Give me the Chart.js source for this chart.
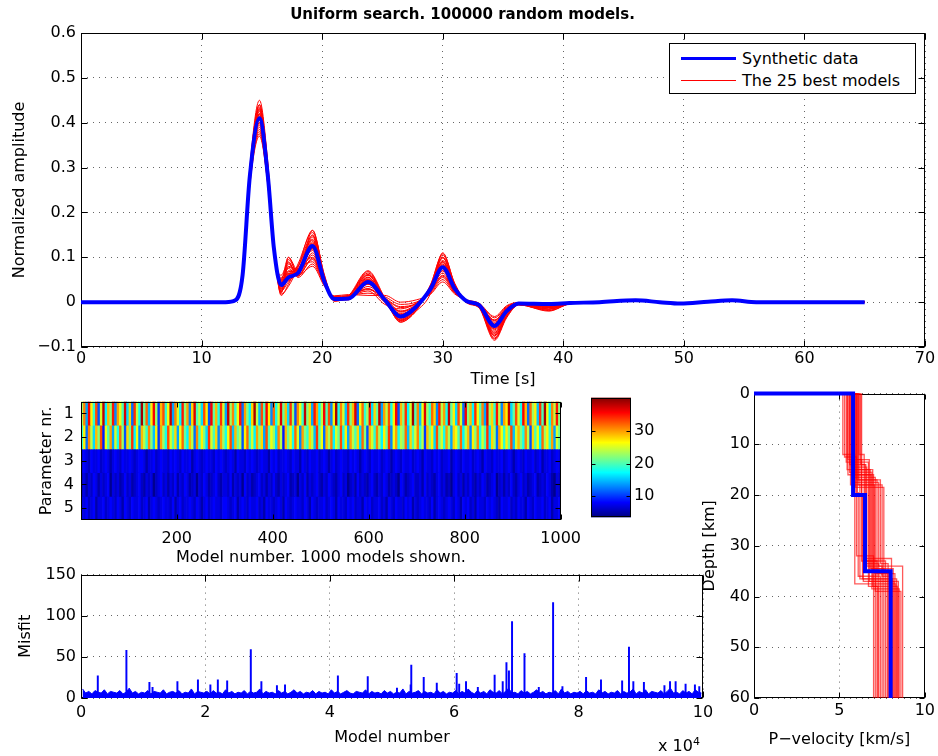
<!DOCTYPE html>
<html lang="en">
<head>
<meta charset="UTF-8">
<title>Uniform search. 100000 random models.</title>
<script src="https://cdn.jsdelivr.net/npm/chart.js@4.4.1/dist/chart.umd.min.js"></script>
<style>
  body { margin: 0; background: #fff; font-family: 'DejaVu Sans', sans-serif; }
  #wrap { position: relative; width: 938px; height: 756px; overflow: hidden; }
  #wrap canvas { position: absolute; }
  #legend { position: absolute; left: 669px; top: 43px; width: 245px; height: 46px; padding-top: 3px;
            border: 1px solid #000; background: #fff; font-size: 16px; color: #000; }
  #legend .item { height: 22px; display: flex; align-items: center; white-space: nowrap; }
  #legend .swatch { display: inline-block; width: 55px; margin: 0 6px 0 11px; }
  #expo { position: absolute; left: 658px; top: 735px; font-size: 16px; color: #000; }
  #expo sup { font-size: 11px; }
</style>
</head>
<body>
<div id="wrap">
  <canvas id="wave" width="938" height="400" style="left:0;top:0"></canvas>
  <canvas id="heat" width="590" height="185" style="left:0;top:385px"></canvas>
  <canvas id="cbar" width="100" height="145" style="left:580px;top:385px"></canvas>
  <canvas id="misfit" width="720" height="196" style="left:0;top:560px"></canvas>
  <canvas id="depth" width="238" height="376" style="left:700px;top:380px"></canvas>
  <div id="legend">
    <div class="item"><span class="swatch" style="border-top:3px solid #00f"></span>Synthetic data</div>
    <div class="item"><span class="swatch" style="border-top:1px solid #f00"></span>The 25 best models</div>
  </div>
  <div id="expo">x 10<sup>4</sup></div>
</div>
<script>
// ---- waveforms (time in s, normalized amplitude) ----
var times = [0, 10, 12, 12.8, 13.4, 14, 14.8, 15.5, 16, 16.6, 17.2, 18, 19.2, 20.2, 21, 22.2, 23.8, 25.2, 26.5, 27.8,
             29, 30, 31, 32, 33, 34.3, 35.3, 36.3, 38.8, 40.5, 43, 46, 48, 49.7, 52, 54, 56, 65];
var synthetic = [0,0,0,0.004,0.06,0.28,0.41,0.28,0.12,0.038,0.055,0.065,0.125,0.045,0.007,0.008,0.045,0.005,-0.032,-0.01,
                 0.03,0.078,0.03,0.002,-0.006,-0.053,-0.02,-0.003,-0.004,-0.002,0,0.004,0,-0.003,0.001,0.004,0,0];
var bestModels = [
  [0,-0.001,0.001,0.005,0.062,0.29,0.44,0.3,0.13,0.03,0.1,0.07,0.15,0.05,0.005,0.01,0.06,0.005,-0.04,-0.012,0.035,0.1,0.035,0.0,-0.01,-0.075,-0.03,-0.005,-0.015,-0.003,0,0.004,0,-0.005,0.001,0.005,0,0],
  [0,0,0,0.004,0.055,0.26,0.37,0.26,0.11,0.045,0.06,0.075,0.09,0.04,0.01,0.012,0.03,0.0,-0.02,-0.005,0.025,0.06,0.025,0.003,-0.005,-0.045,-0.015,-0.002,-0.006,-0.002,0,0.003,0,-0.002,0.001,0.003,0,0],
  [0,0,0,0.004,0.06,0.285,0.43,0.29,0.12,0.02,0.085,0.06,0.16,0.055,0.003,0.015,0.07,0.01,-0.045,-0.02,0.02,0.11,0.04,0.0,-0.012,-0.085,-0.035,-0.006,-0.02,-0.004,0,0.004,0,-0.004,0.001,0.004,0,0],
  [0,0,0,0.004,0.058,0.275,0.4,0.27,0.12,0.05,0.05,0.07,0.1,0.04,0.012,0.01,0.04,0.01,-0.02,-0.008,0.03,0.07,0.028,0.004,-0.004,-0.05,-0.02,-0.003,-0.008,-0.002,0,0.004,0,-0.003,0.001,0.004,0,0],
  [0,0,0,0.005,0.061,0.29,0.42,0.29,0.125,0.035,0.065,0.08,0.14,0.05,0.006,0.005,0.055,0.0,-0.035,-0.015,0.035,0.09,0.03,0.001,-0.008,-0.065,-0.025,-0.004,-0.012,-0.003,0,0.004,0,-0.004,0.001,0.004,0,0],
  [0,0,0,0.004,0.057,0.27,0.39,0.27,0.115,0.042,0.09,0.058,0.11,0.045,0.009,0.012,0.025,-0.005,-0.015,-0.002,0.028,0.065,0.022,0.002,-0.005,-0.04,-0.012,-0.002,-0.005,-0.001,0,0.003,0,-0.002,0.001,0.003,0,0],
  [0,0,0,0.004,0.06,0.28,0.41,0.28,0.12,0.025,0.045,0.07,0.13,0.05,0.004,0.008,0.05,0.002,-0.03,-0.012,0.03,0.085,0.032,0.0,-0.007,-0.06,-0.022,-0.004,-0.01,-0.002,0,0.004,0,-0.003,0.001,0.004,0,0],
  [0,-0.001,0,0.005,0.063,0.3,0.45,0.31,0.13,0.015,0.04,0.085,0.155,0.06,0.002,0.013,0.065,0.008,-0.042,-0.018,0.04,0.105,0.04,-0.002,-0.012,-0.08,-0.032,-0.006,-0.018,-0.004,0,0.004,0,-0.005,0.001,0.005,0,0],
  [0,0,0,0.003,0.056,0.27,0.38,0.265,0.11,0.055,0.075,0.06,0.08,0.035,0.013,0.015,0.02,0.012,-0.005,0.0,0.02,0.05,0.02,0.004,-0.003,-0.035,-0.01,-0.001,-0.004,-0.001,0,0.003,0,-0.002,0.001,0.003,0,0],
  [0,0,0,0.004,0.059,0.28,0.415,0.285,0.12,0.04,0.07,0.065,0.12,0.045,0.007,0.009,0.045,0.004,-0.028,-0.01,0.03,0.08,0.03,0.002,-0.006,-0.055,-0.02,-0.003,-0.007,-0.002,0,0.004,0,-0.003,0.001,0.004,0,0],
  [0,0,0,0.004,0.06,0.285,0.425,0.29,0.125,0.03,0.08,0.072,0.135,0.048,0.005,0.011,0.052,0.003,-0.038,-0.014,0.032,0.09,0.034,0.001,-0.008,-0.07,-0.027,-0.005,-0.013,-0.003,0,0.004,0,-0.004,0.001,0.004,0,0],
  [0,0,0,0.004,0.057,0.272,0.395,0.27,0.118,0.048,0.058,0.062,0.105,0.042,0.01,0.01,0.035,0.006,-0.022,-0.007,0.027,0.07,0.026,0.003,-0.005,-0.048,-0.017,-0.003,-0.007,-0.002,0,0.003,0,-0.003,0.001,0.003,0,0],
  [0,0,0,0.005,0.062,0.29,0.435,0.3,0.13,0.022,0.095,0.066,0.145,0.052,0.004,0.014,0.062,0.006,-0.04,-0.016,0.036,0.098,0.038,0.0,-0.01,-0.073,-0.03,-0.005,-0.016,-0.003,0,0.004,0,-0.004,0.001,0.005,0,0],
  [0,0,0,0.004,0.058,0.276,0.405,0.275,0.118,0.045,0.052,0.068,0.115,0.046,0.008,0.007,0.04,0.003,-0.025,-0.01,0.028,0.075,0.028,0.002,-0.006,-0.05,-0.018,-0.003,-0.006,-0.002,0,0.004,0,-0.003,0.001,0.004,0,0],
  [0,0,0,0.004,0.059,0.282,0.418,0.286,0.122,0.036,0.068,0.07,0.128,0.047,0.006,0.009,0.048,0.004,-0.03,-0.011,0.031,0.083,0.031,0.001,-0.006,-0.058,-0.021,-0.004,-0.009,-0.002,0,0.004,0,-0.003,0.001,0.004,0,0],
  [0,0,0,0.003,0.054,0.265,0.375,0.26,0.108,0.06,0.088,0.055,0.085,0.038,0.014,0.017,0.015,0.015,0.0,0.005,0.018,0.045,0.018,0.005,-0.002,-0.032,-0.008,-0.001,-0.003,-0.001,0,0.003,0,-0.002,0.001,0.003,0,0],
  [0,0,0,0.005,0.063,0.295,0.44,0.305,0.13,0.018,0.035,0.078,0.16,0.058,0.003,0.012,0.068,0.007,-0.044,-0.019,0.038,0.108,0.042,-0.001,-0.011,-0.082,-0.033,-0.006,-0.019,-0.004,0,0.004,0,-0.005,0.001,0.005,0,0],
  [0,0,0,0.004,0.06,0.28,0.41,0.28,0.12,0.04,0.058,0.064,0.118,0.044,0.008,0.01,0.042,0.005,-0.027,-0.009,0.03,0.076,0.029,0.002,-0.006,-0.052,-0.019,-0.003,-0.008,-0.002,0,0.004,0,-0.003,0.001,0.004,0,0],
  [0,0,0,0.004,0.058,0.274,0.4,0.272,0.116,0.05,0.1,0.06,0.095,0.04,0.011,0.013,0.03,0.008,-0.012,-0.004,0.024,0.058,0.022,0.003,-0.004,-0.042,-0.014,-0.002,-0.006,-0.001,0,0.003,0,-0.002,0.001,0.003,0,0],
  [0,0,0,0.005,0.061,0.288,0.428,0.292,0.124,0.028,0.062,0.074,0.138,0.05,0.005,0.01,0.056,0.003,-0.036,-0.013,0.034,0.093,0.035,0.001,-0.009,-0.068,-0.026,-0.005,-0.012,-0.003,0,0.004,0,-0.004,0.001,0.004,0,0],
  [0,0,0,0.004,0.059,0.279,0.408,0.278,0.119,0.043,0.048,0.067,0.122,0.046,0.007,0.008,0.043,0.004,-0.03,-0.01,0.029,0.079,0.03,0.002,-0.006,-0.054,-0.02,-0.003,-0.008,-0.002,0,0.004,0,-0.003,0.001,0.004,0,0],
  [0,0,0,0.004,0.06,0.283,0.42,0.287,0.123,0.033,0.078,0.069,0.132,0.048,0.006,0.011,0.05,0.002,-0.034,-0.012,0.033,0.088,0.033,0.001,-0.007,-0.062,-0.024,-0.004,-0.011,-0.003,0,0.004,0,-0.004,0.001,0.004,0,0],
  [0,0,0,0.004,0.056,0.268,0.385,0.264,0.112,0.052,0.064,0.058,0.098,0.04,0.012,0.014,0.028,0.009,-0.01,-0.003,0.022,0.055,0.021,0.004,-0.003,-0.04,-0.013,-0.002,-0.005,-0.001,0,0.003,0,-0.002,0.001,0.003,0,0],
  [0,0,0,0.005,0.062,0.292,0.432,0.297,0.128,0.024,0.055,0.08,0.148,0.054,0.004,0.012,0.06,0.005,-0.041,-0.016,0.036,0.1,0.037,0.0,-0.01,-0.076,-0.03,-0.005,-0.016,-0.003,0,0.004,0,-0.004,0.001,0.005,0,0],
  [0,0,0,0.004,0.059,0.279,0.41,0.279,0.12,0.04,0.062,0.066,0.12,0.045,0.007,0.009,0.044,0.004,-0.03,-0.01,0.03,0.078,0.03,0.002,-0.006,-0.055,-0.02,-0.003,-0.008,-0.002,0,0.004,0,-0.003,0.001,0.004,0,0]
];

// ---- parameter image: 1000 models, 5 parameters, one value per 5 models ----
var binSize = 5;
var param1 = [23,31,14,36,27,19,33,11,25,38,17,29,22,35,13,30,26,20,37,16,
  28,12,34,24,18,39,21,32,15,27,36,23,10,29,33,19,26,38,14,31,
  25,17,35,22,30,13,28,37,20,24,16,33,27,11,36,21,29,18,34,25,
  14,38,23,31,19,26,35,12,30,22,17,28,39,24,15,33,20,36,27,13,
  32,18,25,37,21,29,16,34,23,11,31,26,19,38,22,28,14,35,30,17,
  24,36,20,33,13,27,39,18,31,25,15,34,22,29,37,12,26,32,19,23,
  35,16,28,21,38,14,30,24,33,18,27,36,11,29,22,34,17,25,39,20,
  31,15,26,37,23,19,32,28,13,35,24,30,18,38,21,27,16,33,25,12,
  36,22,29,17,34,26,20,31,14,37,23,28,19,35,24,13,30,27,38,16,
  21,33,25,18,36,29,12,32,23,27,15,34,20,39,26,17,31,24,35,22];
var param2 = [19,27,12,31,24,16,29,22,33,9,26,20,30,14,25,18,32,23,11,28,
  21,34,17,26,13,29,24,19,31,22,15,27,10,30,23,18,33,25,20,28,
  14,26,32,21,17,29,24,12,31,19,27,22,16,34,25,20,28,13,30,23,
  18,26,33,15,29,21,24,11,27,32,19,25,17,30,22,28,14,33,20,26,
  23,16,31,24,9,29,21,27,18,32,25,13,30,22,19,28,24,15,34,20,
  26,12,29,23,31,17,25,21,33,18,27,14,30,24,20,28,16,32,22,11,
  29,25,19,31,23,17,27,21,34,13,26,30,18,24,22,32,15,28,20,25,
  31,19,24,10,29,22,27,16,33,21,25,18,30,23,14,28,26,20,32,17,
  24,29,13,27,22,31,18,25,20,34,16,28,23,12,30,26,19,27,21,33,
  15,25,29,22,18,31,24,11,28,20,26,17,32,23,27,19,30,14,25,21];
var param3 = [7,8,7,6,8,7,7,8,6,7,8,7,5,7,8,7,6,8,7,7,
  8,7,6,7,8,8,7,5,7,7,8,6,7,8,7,7,6,8,7,8,
  7,6,8,7,7,8,5,7,8,7,6,7,8,7,7,6,8,7,8,7,
  6,7,8,7,5,8,7,7,6,8,7,8,7,6,7,8,7,7,5,8,
  7,8,6,7,7,8,7,6,8,7,7,5,8,7,6,8,7,7,8,6,
  7,8,7,5,7,8,6,7,8,7,7,6,8,7,8,7,5,7,8,7,
  6,8,7,7,8,6,7,8,7,5,7,8,7,6,8,7,7,8,6,7,
  8,7,5,8,7,7,6,8,7,8,6,7,7,8,5,7,8,7,6,8,
  7,7,8,6,7,8,7,5,8,7,7,6,8,7,7,8,6,7,8,7,
  5,7,8,7,6,8,7,7,8,6,7,8,5,7,7,8,6,7,8,7];
var param4 = [6,7,5,7,6,8,7,5,7,6,7,8,4,7,6,7,5,6,8,6,
  7,5,6,7,8,6,5,7,6,7,4,6,7,8,6,7,5,7,6,8,
  5,7,6,8,7,5,6,7,4,7,6,8,7,5,6,7,8,6,5,7,
  7,6,8,5,7,6,7,4,8,6,7,5,6,7,8,6,7,5,7,6,
  8,6,5,7,6,7,8,5,6,7,4,7,6,8,5,7,6,7,8,6,
  5,7,6,8,7,6,5,7,8,6,7,4,6,7,5,8,6,7,6,5,
  7,8,6,5,7,6,8,7,5,6,7,6,4,8,7,5,6,7,8,6,
  6,7,5,8,6,7,6,5,7,8,6,7,5,6,4,7,8,6,7,5,
  7,6,8,6,5,7,6,8,7,5,6,7,8,4,6,7,5,7,6,8,
  6,5,7,8,6,7,5,6,7,8,5,6,7,6,8,7,5,4,7,6];
var param5 = [7,7,8,6,7,8,5,7,7,8,6,7,8,7,6,8,7,5,8,7,
  6,8,7,7,8,6,7,8,5,7,8,7,6,7,8,7,7,6,8,5,
  7,8,6,7,7,8,7,6,8,7,5,7,8,6,7,8,7,7,6,8,
  8,7,6,7,8,5,7,8,7,6,8,7,7,8,6,7,5,8,7,7,
  6,7,8,7,5,8,7,6,7,8,7,7,6,8,7,5,8,7,6,7,
  7,8,6,7,8,7,5,8,7,7,6,8,7,8,6,7,7,5,8,7,
  8,6,7,7,8,6,7,5,8,7,6,8,7,7,6,8,7,8,5,7,
  6,7,8,7,7,6,8,5,7,8,7,6,7,8,7,6,8,7,5,8,
  7,8,6,7,5,8,7,7,6,8,7,8,7,6,5,8,7,7,8,6,
  7,6,8,7,7,5,8,7,6,8,7,7,8,6,7,8,5,7,7,8];
var paramRows = [param1, param2, param3, param4, param5];
var paramTicks = [1, 2, 3, 4, 5];
var modelTicks = [200, 400, 600, 800, 1000];
var colorMin = 3.4, colorMax = 40.4;
var colorTicks = [10, 20, 30];

// ---- misfit of all 100000 models (background level every 500 models + spikes) ----
var bandStep = 500;
var misfitBand = [11,6,8,5,9,7,6,10,5,8,7,6,9,5,7,12,6,8,5,7,
  6,9,5,8,7,6,10,5,7,8,6,9,5,7,6,11,5,8,7,6,
  8,5,9,6,7,5,10,6,8,5,7,6,9,5,8,6,7,11,5,8,
  6,7,5,9,6,8,5,7,10,6,8,5,7,6,9,5,8,6,7,5,
  10,6,8,5,7,9,6,5,8,7,6,10,5,8,6,7,5,9,6,8,
  5,7,6,11,5,8,6,7,9,5,8,6,7,5,10,6,8,5,7,6,
  9,5,8,6,11,7,5,9,6,8,5,10,7,6,9,5,8,12,6,7,
  5,9,6,8,5,7,10,6,8,5,7,6,9,5,11,6,8,5,7,6,
  8,5,9,6,7,5,10,6,8,5,7,6,9,5,8,6,7,11,5,8,
  6,10,5,8,7,6,9,5,8,12,6,7,5,9,6,8,5,10,7,6];
var spikeModel = [2700, 7300, 11000, 11500, 15500, 18800, 20800, 22000, 23500, 27300, 29000, 31500, 32800, 41300, 46100,
  50800, 53000, 53100, 55100, 57200, 60400, 60800, 61900, 63800, 66500, 67800, 68400, 68800, 69300, 71300,
  73600, 75900, 77400, 81200, 83600, 87000, 88100, 88800, 90500, 93800, 94700, 95600, 97200, 98700, 99400];
var spikeMisfit = [27, 58, 19, 13, 20, 22, 16, 22, 21, 59, 20, 15, 16, 27, 26,
  12, 16, 40, 25, 18, 30, 17, 20, 13, 28, 20, 43, 33, 93, 54,
  13, 116, 14, 25, 22, 21, 62, 20, 19, 15, 20, 20, 17, 16, 14];

// ---- velocity profiles: 3 layers, interfaces at depth1 / depth2 (km) ----
var maxDepth = 60;
var trueVel = [5.8, 6.5, 8.0];
var trueDepth = [20, 35];
var vel1 = [5.3,5.5,5.6,5.7,5.8,5.9,6.0,6.1,6.2,6.3,5.2,5.4,5.6,5.75,5.85,5.95,6.05,6.15,6.25,5.5,5.65,5.9,6.0,5.45,6.1];
var depth1 = [12.5,13,14,14.5,15,16,17,18,19,20,12,13.5,15.5,16.5,17.5,18.5,19.5,12,14,16,18,20,13,15,17];
var vel2 = [6.0,6.3,6.5,6.6,6.8,7.0,7.2,7.5,6.2,6.4,5.9,6.7,6.9,7.1,7.3,7.6,6.1,6.45,6.55,6.85,7.05,6.35,6.75,6.95,7.4];
var depth2 = [32,33,33.5,34,34.5,35,35.5,36,36.5,37,37.5,38,38.5,39,34,35,36,33,32.5,34.5,35.5,36.5,37,38,33.5];
var vel3 = [7.0,7.2,7.3,7.5,7.6,7.8,7.9,8.0,8.1,8.2,8.3,8.4,8.5,8.6,8.7,7.1,7.4,7.7,8.05,8.15,8.25,8.35,8.45,7.25,7.85];

Chart.defaults.font.family = "'DejaVu Sans', sans-serif";
Chart.defaults.font.size = 16;
Chart.defaults.color = '#000';
Chart.defaults.responsive = false;
Chart.defaults.animation = false;
Chart.defaults.plugins.legend.display = false;
Chart.defaults.plugins.tooltip.enabled = false;

// matlab "jet" colour map
function jet(v) {
    var f = Math.min(1, Math.max(0, (v - colorMin) / (colorMax - colorMin)));
    var c = function(k) { return Math.round(255 * Math.min(1, Math.max(0, 1.5 - Math.abs(4 * f - k)))); };
    return 'rgb(' + c(3) + ',' + c(2) + ',' + c(1) + ')';
}

// box round the plot area with inward tick marks (under or over the data)
function drawBox(chart, opts) {
    var ctx = chart.ctx, a = chart.chartArea;
    var l = Math.round(a.left) + 0.5, r = Math.round(a.right) - 0.5;
    var t = Math.round(a.top) + 0.5, b = Math.round(a.bottom) - 0.5;
    var len = opts.tick || 0;
    ctx.save();
    ctx.strokeStyle = '#000';
    ctx.lineWidth = 1;
    ctx.beginPath();
    Object.values(chart.scales).forEach(function(s) {
        if (!len || s.options.display === false) return;
        s.ticks.forEach(function(tk) {
            var p = Math.round(s.getPixelForValue(tk.value)) + 0.5;
            if (s.isHorizontal()) {
                ctx.moveTo(p, b); ctx.lineTo(p, b - len);
                ctx.moveTo(p, t); ctx.lineTo(p, t + len);
            } else {
                ctx.moveTo(l, p); ctx.lineTo(l + len, p);
                ctx.moveTo(r, p); ctx.lineTo(r - len, p);
            }
        });
    });
    ctx.stroke();
    ctx.strokeRect(l, t, r - l, b - t);
    ctx.restore();
}
var axesBox = {
    id: 'axesBox',
    beforeDatasetsDraw: function(chart, args, opts) { if (opts.under) drawBox(chart, opts); },
    afterDatasetsDraw: function(chart, args, opts) { if (!opts.under) drawBox(chart, opts); }
};

var dotGrid = { color: 'rgba(0,0,0,0.6)', drawTicks: false, offset: false };
var dotBorder = { display: false, dash: [1, 5] };
var noGrid = { display: false, drawTicks: false, offset: false };
var noBorder = { display: false };

function minus(v) {
    var n = Math.round(v * 10) / 10;
    return String(n).replace('-', '\u2212');
}

// ---- top: waveforms ----
var waveSets = [{
    label: 'Synthetic data',
    data: times.map(function(t, i) { return { x: t, y: synthetic[i] }; }),
    borderColor: '#0000ff', borderWidth: 4
}];
bestModels.forEach(function(m) {
    waveSets.push({
        label: 'The 25 best models',
        data: times.map(function(t, i) { return { x: t, y: m[i] }; }),
        borderColor: '#ff0000', borderWidth: 1
    });
});
waveSets.forEach(function(d) {
    d.showLine = true; d.pointRadius = 0; d.cubicInterpolationMode = 'monotone';
});

new Chart(document.getElementById('wave'), {
    type: 'scatter',
    data: { datasets: waveSets },
    options: {
        layout: { padding: { right: 13 } },
        plugins: {
            title: { display: true, text: 'Uniform search. 100000 random models.', color: '#000',
                     font: { size: 15, weight: 'bold' }, padding: { top: 6, bottom: 9 } },
            axesBox: { tick: 6, under: true }
        },
        scales: {
            x: { type: 'linear', min: 0, max: 70, grid: dotGrid, border: dotBorder,
                 ticks: { stepSize: 10, padding: 2 },
                 title: { display: true, text: 'Time [s]', padding: { top: 0, bottom: 11 } },
                 afterFit: function(s) { s.height = 53; } },
            y: { min: -0.1, max: 0.6, grid: dotGrid, border: dotBorder,
                 ticks: { stepSize: 0.1, padding: 5, callback: minus },
                 title: { display: true, text: 'Normalized amplitude', padding: { top: 10, bottom: 0 } },
                 afterFit: function(s) { s.width = 81; } }
        }
    },
    plugins: [axesBox]
});

// ---- parameter image ----
var heatSets = paramRows.map(function(row, k) {
    return {
        data: row.map(function(v, i) {
            return { x: i * binSize + (binSize + 1) / 2, y: [paramTicks[k] - 0.5, paramTicks[k] + 0.5] };
        }),
        backgroundColor: row.map(jet),
        grouped: false, barPercentage: 1, categoryPercentage: 1, borderWidth: 0
    };
});

new Chart(document.getElementById('heat'), {
    type: 'bar',
    data: { datasets: heatSets },
    options: {
        layout: { padding: { top: 6, right: 29 } },
        plugins: { axesBox: { tick: 5 } },
        scales: {
            x: { type: 'linear', offset: false, min: 0.5, max: 1000.5, grid: noGrid, border: noBorder,
                 afterBuildTicks: function(s) { s.ticks = modelTicks.map(function(v) { return { value: v }; }); },
                 ticks: { padding: 9, callback: function(v) { return String(v); } },
                 title: { display: true, text: 'Model number. 1000 models shown.', padding: { top: 0, bottom: 3 } },
                 afterFit: function(s) { s.height = 50; } },
            y: { type: 'linear', min: 0.5, max: 5.5, reverse: true, grid: noGrid, border: noBorder,
                 afterBuildTicks: function(s) { s.ticks = paramTicks.map(function(v) { return { value: v }; }); },
                 ticks: { padding: 7 },
                 title: { display: true, text: 'Parameter nr.', padding: { top: 37, bottom: 0 } },
                 afterFit: function(s) { s.width = 81; } }
        }
    },
    plugins: [axesBox]
});

// ---- colour bar ----
function jetGradient(chart) {
    var area = chart.chartArea;
    if (!area) return null;
    var y = chart.scales.y;
    var g = chart.ctx.createLinearGradient(0, y.getPixelForValue(colorMin), 0, y.getPixelForValue(colorMax));
    [0, 0.125, 0.375, 0.625, 0.875, 1].forEach(function(f) {
        g.addColorStop(f, jet(colorMin + f * (colorMax - colorMin)));
    });
    return g;
}

new Chart(document.getElementById('cbar'), {
    type: 'bar',
    data: {
        labels: [''],
        datasets: [{ data: [[colorMin, colorMax]], backgroundColor: function(c) { return jetGradient(c.chart); },
                     barPercentage: 1, categoryPercentage: 1, borderWidth: 0 }]
    },
    options: {
        layout: { padding: { left: 11, top: 6, bottom: 10 } },
        plugins: { axesBox: { tick: 4 } },
        scales: {
            x: { display: false },
            y: { position: 'right', min: colorMin, max: colorMax, grid: noGrid, border: noBorder,
                 afterBuildTicks: function(s) { s.ticks = colorTicks.map(function(v) { return { value: v }; }); },
                 ticks: { padding: 3 },
                 afterFit: function(s) { s.width = 49; } }
        }
    },
    plugins: [axesBox]
});

// ---- misfit ----
new Chart(document.getElementById('misfit'), {
    type: 'bar',
    data: {
        datasets: [{
            type: 'bar',
            data: spikeModel.map(function(m, i) { return { x: m, y: spikeMisfit[i] }; }),
            backgroundColor: '#0000ff', barThickness: 1.3, borderWidth: 0
        }, {
            type: 'line',
            data: misfitBand.map(function(v, i) { return { x: i * bandStep + bandStep / 2, y: v }; }),
            borderColor: '#0000ff', backgroundColor: '#0000ff', borderWidth: 1,
            fill: 'origin', pointRadius: 0, tension: 0
        }]
    },
    options: {
        layout: { padding: { top: 10, right: 17 } },
        plugins: { axesBox: { tick: 6, under: true } },
        scales: {
            x: { type: 'linear', offset: false, min: 0, max: 100000, grid: dotGrid, border: dotBorder,
                 ticks: { stepSize: 20000, padding: 5, callback: function(v) { return String(v / 10000); } },
                 title: { display: true, text: 'Model number', padding: { top: 0, bottom: 9 } },
                 afterFit: function(s) { s.height = 58; } },
            y: { min: 0, max: 150, grid: dotGrid, border: dotBorder,
                 ticks: { stepSize: 50, padding: 5 },
                 title: { display: true, text: 'Misfit', padding: { top: 16, bottom: 0 } },
                 afterFit: function(s) { s.width = 81; } }
        }
    },
    plugins: [axesBox]
});

// ---- velocity profiles ----
function profile(vel, dep) {
    var pts = [{ x: 0, y: 0 }];
    vel.forEach(function(v, i) {
        pts.push({ x: v, y: i ? dep[i - 1] : 0 });
        pts.push({ x: v, y: i < dep.length ? dep[i] : maxDepth });
    });
    return pts;
}
var depthSets = [{ data: profile(trueVel, trueDepth), borderColor: '#0000ff', borderWidth: 4, clip: false }];
vel1.forEach(function(v, i) {
    depthSets.push({
        data: profile([vel1[i], vel2[i], vel3[i]], [depth1[i], depth2[i]]),
        borderColor: 'rgba(255,0,0,0.65)', borderWidth: 1.3
    });
});
depthSets.forEach(function(d) { d.showLine = true; d.pointRadius = 0; d.tension = 0; });

new Chart(document.getElementById('depth'), {
    type: 'scatter',
    data: { datasets: depthSets },
    options: {
        layout: { padding: { top: 11, right: 13 } },
        plugins: { axesBox: { tick: 5, under: true } },
        scales: {
            x: { type: 'linear', min: 0, max: 10, grid: dotGrid, border: dotBorder,
                 ticks: { stepSize: 5, padding: 3 },
                 title: { display: true, text: 'P\u2212velocity [km/s]', padding: { top: 0, bottom: 7 } },
                 afterFit: function(s) { s.height = 58; } },
            y: { min: 0, max: maxDepth, reverse: true, grid: dotGrid, border: dotBorder,
                 ticks: { stepSize: 10, padding: 4 },
                 title: { display: true, text: 'Depth [km]', padding: { top: 0, bottom: 0 } },
                 afterFit: function(s) { s.width = 54; } }
        }
    },
    plugins: [axesBox]
});
</script>
</body>
</html>
